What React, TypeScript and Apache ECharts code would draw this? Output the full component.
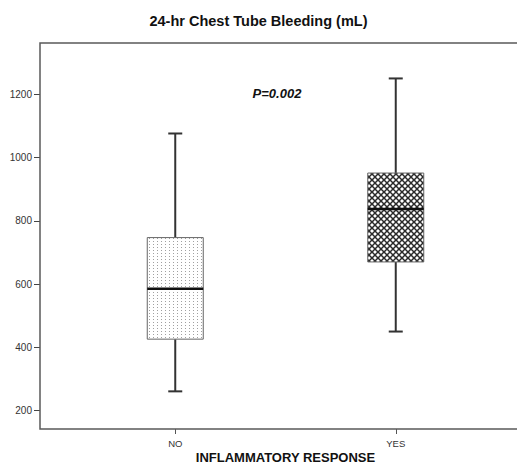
import React, { useEffect, useRef } from "react";
import * as echarts from "echarts";

const categories = ["NO", "YES"];
const mins = [261, 450];
const q1s = [426, 670];
const medians = [585, 837];
const q3s = [747, 951];
const maxs = [1076, 1250];
const yTicks = [200, 400, 600, 800, 1000, 1200];
const chartTitle = "24-hr Chest Tube Bleeding (mL)";
const xName = "INFLAMMATORY RESPONSE";
const annotation = "P=0.002";

function makePattern(kind: string): any {
  const c = document.createElement("canvas");
  if (kind === "dots") {
    c.width = 4;
    c.height = 3;
    const ctx = c.getContext("2d")!;
    ctx.fillStyle = "#ffffff";
    ctx.fillRect(0, 0, 4, 3);
    ctx.fillStyle = "#a0a0a0";
    ctx.fillRect(1, 1, 1, 1);
  } else {
    c.width = 6;
    c.height = 6;
    const ctx = c.getContext("2d")!;
    ctx.fillStyle = "#ffffff";
    ctx.fillRect(0, 0, 6, 6);
    ctx.strokeStyle = "#2a2a2a";
    ctx.lineWidth = 1.5;
    for (let k = -6; k <= 6; k += 6) {
      ctx.beginPath();
      ctx.moveTo(k, 0);
      ctx.lineTo(k + 6, 6);
      ctx.stroke();
      ctx.beginPath();
      ctx.moveTo(k + 6, 0);
      ctx.lineTo(k, 6);
      ctx.stroke();
    }
  }
  return { image: c, repeat: "repeat", imageWidth: c.width, imageHeight: c.height };
}

export default function App() {
  const ref = useRef<HTMLDivElement>(null);
  useEffect(() => {
    if (!ref.current) return;
    const chart = echarts.init(ref.current, undefined, { renderer: "svg" });
    const patterns = [makePattern("dots"), makePattern("cross")];
    const data = categories.map((c, i) => [i, mins[i], q1s[i], medians[i], q3s[i], maxs[i]]);
    const boxW = 56;
    const capW = 14;
    const font = "'Liberation Sans', Arial, sans-serif";
    chart.setOption({
      animation: false,
      title: {
        text: chartTitle,
        left: "center",
        top: 8,
        textStyle: { fontFamily: font, fontSize: 14.5, fontWeight: "bold", color: "#111" },
      },
      grid: { left: 65, width: 441, top: 43, height: 386, containLabel: false, outerBoundsMode: "none" },
      xAxis: {
        type: "category",
        data: categories,
        boundaryGap: true,
        axisLine: { show: false },
        axisTick: { show: true, alignWithLabel: true, length: 5, lineStyle: { color: "#555", width: 1 } },
        axisLabel: { fontFamily: font, fontSize: 9.5, color: "#333", margin: 9 },
        name: xName,
        nameLocation: "middle",
        nameGap: 22,
        nameMoveOverlap: false,
        nameTextStyle: { fontFamily: font, fontSize: 13, lineHeight: 13, fontWeight: "bold", color: "#111" },
        splitLine: { show: false },
      },
      yAxis: {
        type: "value",
        min: 142,
        max: 1362,
        offset: 25,
        axisLine: { show: false },
        axisTick: { show: true, length: 6, customValues: yTicks, lineStyle: { color: "#444", width: 1 } },
        axisLabel: {
          fontFamily: font,
          fontSize: 10,
          color: "#333",
          margin: 8,
          customValues: yTicks,
          formatter: (v: number) => String(v),
        },
        splitLine: { show: false },
      },
      graphic: [
        {
          type: "rect",
          shape: { x: 40, y: 43, width: 500, height: 386 },
          style: { fill: "none", stroke: "#5a5a5a", lineWidth: 1.5 },
          z: 10,
        },
        {
          type: "text",
          x: 277,
          y: 93,
          style: {
            text: annotation,
            fontFamily: font,
            fontSize: 13,
            fontWeight: "bold",
            fontStyle: "italic",
            fill: "#111",
            align: "center",
            verticalAlign: "middle",
          },
        },
      ],
      series: [
        {
          type: "custom",
          data: data,
          encode: { x: 0, y: [1, 2, 3, 4, 5] },
          renderItem: (params: any, api: any) => {
            const idx = api.value(0);
            const pMin = api.coord([idx, api.value(1)]);
            const pQ1 = api.coord([idx, api.value(2)]);
            const pMed = api.coord([idx, api.value(3)]);
            const pQ3 = api.coord([idx, api.value(4)]);
            const pMax = api.coord([idx, api.value(5)]);
            const cx = pMin[0];
            const wStyle = { stroke: "#333", lineWidth: 2 };
            return {
              type: "group",
              children: [
                { type: "line", shape: { x1: cx, y1: pQ3[1], x2: cx, y2: pMax[1] }, style: wStyle },
                { type: "line", shape: { x1: cx - capW / 2, y1: pMax[1], x2: cx + capW / 2, y2: pMax[1] }, style: wStyle },
                { type: "line", shape: { x1: cx, y1: pQ1[1], x2: cx, y2: pMin[1] }, style: wStyle },
                { type: "line", shape: { x1: cx - capW / 2, y1: pMin[1], x2: cx + capW / 2, y2: pMin[1] }, style: wStyle },
                {
                  type: "rect",
                  shape: { x: cx - boxW / 2, y: pQ3[1], width: boxW, height: pQ1[1] - pQ3[1] },
                  style: { fill: patterns[params.dataIndex], stroke: "#666", lineWidth: 1 },
                },
                {
                  type: "line",
                  shape: { x1: cx - boxW / 2, y1: pMed[1], x2: cx + boxW / 2, y2: pMed[1] },
                  style: { stroke: "#111", lineWidth: 2.5 },
                },
              ],
            };
          },
        },
      ],
    });
    return () => chart.dispose();
  }, []);
  return <div ref={ref} style={{ position: "fixed", left: 0, top: 0, width: 517, height: 464, background: "#fff" }} />;
}
